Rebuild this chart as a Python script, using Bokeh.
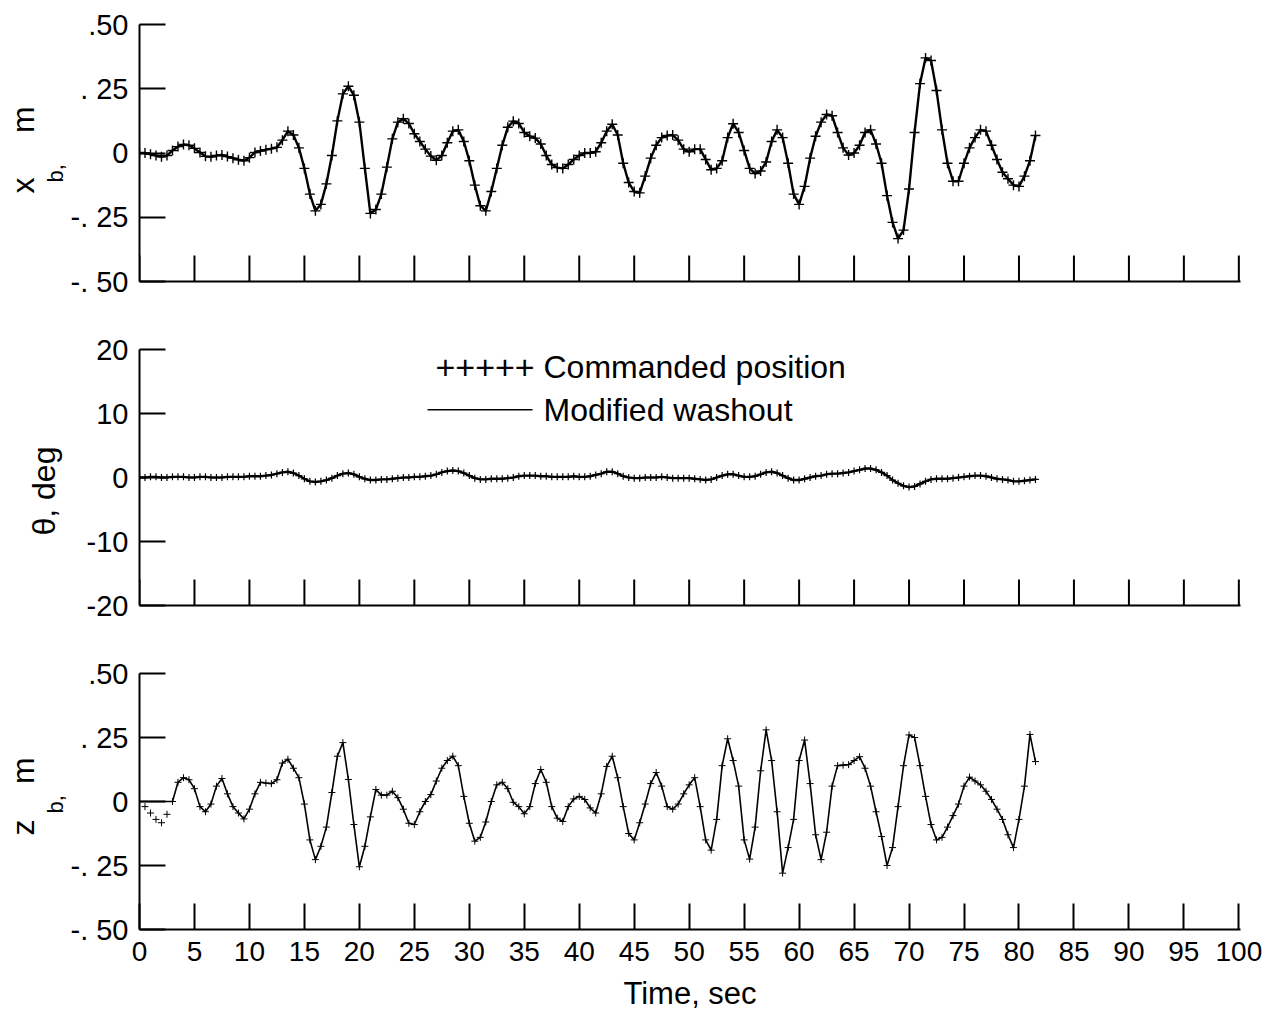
import numpy as np
from bokeh.plotting import figure
from bokeh.layouts import column
from bokeh.models import Range1d, FixedTicker, Label, Title
from bokeh.embed import file_html
from bokeh.resources import INLINE

FONT = "Liberation Sans"
NB = "\u00a0"

# ---------------- data ----------------
time_s = np.arange(0, 82, 0.5)   # 0 .. 81.5 s, one sample every 0.5 s

# x_b, m  (commanded position)
cmd_x = [
    0.00, 0.00, -0.005, -0.01, -0.015, -0.01, 0.01, 0.025, 0.033, 0.03,
    0.018, 0.002, -0.013, -0.015, -0.01, -0.008, -0.014, -0.02, -0.026, -0.03,
    -0.018, 0.002, 0.008, 0.013, 0.017, 0.022, 0.05, 0.085, 0.07, 0.02,
    -0.06, -0.16, -0.225, -0.2, -0.12, -0.01, 0.125, 0.23, 0.26, 0.225,
    0.12, -0.06, -0.235, -0.22, -0.16, -0.055, 0.055, 0.12, 0.133, 0.115,
    0.075, 0.045, 0.015, -0.012, -0.028, -0.01, 0.04, 0.085, 0.09, 0.045,
    -0.03, -0.125, -0.205, -0.225, -0.15, -0.06, 0.03, 0.1, 0.124, 0.115,
    0.08, 0.065, 0.058, 0.035, -0.01, -0.045, -0.057, -0.06, -0.045, -0.025,
    -0.01, 0.0, 0.0, 0.005, 0.04, 0.085, 0.112, 0.07, -0.04, -0.115,
    -0.15, -0.155, -0.09, -0.02, 0.03, 0.06, 0.068, 0.07, 0.05, 0.015,
    0.005, 0.015, 0.015, -0.025, -0.065, -0.06, -0.03, 0.06, 0.114, 0.08,
    0.01, -0.06, -0.08, -0.07, -0.035, 0.045, 0.09, 0.06, -0.04, -0.16,
    -0.2, -0.13, -0.02, 0.065, 0.12, 0.15, 0.145, 0.08, 0.02, -0.008,
    0.0, 0.03, 0.08, 0.09, 0.035, -0.04, -0.166, -0.27, -0.333, -0.3,
    -0.14, 0.08, 0.27, 0.37, 0.36, 0.243, 0.09, -0.04, -0.11, -0.11,
    -0.04, 0.02, 0.06, 0.09, 0.085, 0.03, -0.025, -0.075, -0.1, -0.125,
    -0.13, -0.09, -0.03, 0.068,
]
# x_b, m  (modified washout) - coincides with the commanded trace
wash_x = list(cmd_x)

# theta, deg (commanded position)
cmd_theta = [
    0, 0, 0.1, 0.1, 0, 0, 0.1, 0.1, 0.1, 0,
    0, 0.1, 0.1, 0, 0, 0, 0.1, 0.1, 0.1, 0.1,
    0.2, 0.2, 0.2, 0.3, 0.4, 0.6, 0.8, 0.9, 0.7, 0.3,
    -0.2, -0.6, -0.7, -0.6, -0.4, -0.1, 0.3, 0.6, 0.7, 0.5,
    0.1, -0.2, -0.4, -0.4, -0.3, -0.3, -0.2, -0.1, 0, 0,
    0.1, 0.1, 0.2, 0.3, 0.5, 0.8, 1.0, 1.1, 1.0, 0.7,
    0.3, -0.1, -0.3, -0.3, -0.2, -0.2, -0.2, -0.1, 0, 0.2,
    0.3, 0.3, 0.3, 0.2, 0.2, 0.1, 0.1, 0.1, 0.1, 0.2,
    0.1, 0.1, 0.2, 0.4, 0.6, 0.9, 0.9, 0.6, 0.2, 0,
    -0.1, -0.1, 0, 0, 0, 0.1, 0, -0.1, -0.1, -0.1,
    -0.1, -0.2, -0.3, -0.4, -0.3, 0, 0.3, 0.5, 0.5, 0.3,
    0.1, 0.1, 0.2, 0.5, 0.8, 0.9, 0.7, 0.3, -0.1, -0.4,
    -0.4, -0.2, 0, 0.2, 0.3, 0.5, 0.6, 0.6, 0.7, 0.8,
    1.0, 1.2, 1.4, 1.4, 1.2, 0.8, 0.3, -0.4, -0.9, -1.3,
    -1.5, -1.4, -1.0, -0.6, -0.3, -0.2, -0.2, -0.2, -0.1, 0,
    0.1, 0.2, 0.3, 0.3, 0.2, 0, -0.2, -0.3, -0.4, -0.6,
    -0.6, -0.5, -0.4, -0.3,
]
wash_theta = list(cmd_theta)

# z_b, m (commanded position)
cmd_z = [
    0.0, -0.02, -0.045, -0.07, -0.083, -0.05, 0.0, 0.075, 0.093, 0.085,
    0.05, -0.02, -0.04, -0.01, 0.06, 0.09, 0.03, -0.02, -0.045, -0.068,
    -0.03, 0.03, 0.075, 0.072, 0.07, 0.085, 0.15, 0.165, 0.13, 0.093,
    -0.01, -0.15, -0.227, -0.175, -0.1, 0.035, 0.177, 0.23, 0.086, -0.09,
    -0.255, -0.175, -0.06, 0.047, 0.025, 0.025, 0.04, 0.015, -0.03, -0.085,
    -0.09, -0.04, 0.0, 0.027, 0.08, 0.13, 0.16, 0.177, 0.14, 0.02,
    -0.085, -0.155, -0.14, -0.08, 0.0, 0.065, 0.075, 0.05, -0.003, -0.02,
    -0.048, -0.02, 0.07, 0.125, 0.075, -0.02, -0.065, -0.078, -0.02, 0.01,
    0.02, 0.008, -0.025, -0.045, 0.03, 0.137, 0.177, 0.093, -0.02, -0.125,
    -0.15, -0.083, -0.01, 0.07, 0.113, 0.06, -0.02, -0.03, -0.01, 0.03,
    0.065, 0.093, -0.02, -0.15, -0.19, -0.07, 0.14, 0.245, 0.16, 0.06,
    -0.15, -0.225, -0.1, 0.12, 0.28, 0.16, -0.04, -0.28, -0.18, -0.07,
    0.16, 0.24, 0.07, -0.13, -0.227, -0.12, 0.06, 0.14, 0.142, 0.144,
    0.16, 0.175, 0.13, 0.06, -0.04, -0.137, -0.25, -0.18, -0.02, 0.14,
    0.26, 0.25, 0.14, 0.02, -0.09, -0.15, -0.14, -0.1, -0.055, -0.01,
    0.06, 0.095, 0.08, 0.065, 0.04, 0.008, -0.03, -0.07, -0.13, -0.18,
    -0.07, 0.06, 0.262, 0.156,
]
# z_b, m (modified washout): flat at the start, then follows the command
wash_z = [0.0, 0.0, 0.0, 0.0, 0.0, 0.0] + cmd_z[6:]

x_ticks = list(range(0, 101, 5))
pos_ticks = [-0.5, -0.25, 0.0, 0.25, 0.5]
pos_labels = {0.5: ".50", 0.25: ". 25", 0.0: "0", -0.25: "-. 25", -0.5: "-. 50"}
deg_ticks = [-20, -10, 0, 10, 20]
deg_labels = {20: "20", 10: "10", 0: "0", -10: "-10", -20: "-20"}

legend_marks = "+++++"
legend_cmd = "Commanded position"
legend_wash = "Modified washout"

X_END = 100.15
TICK_PX = 26


def make_panel(yr, yticks, ylabels, frame_h, top, bottom, show_x):
    p = figure(frame_width=1101, frame_height=frame_h,
               x_range=Range1d(0, X_END), y_range=Range1d(*yr),
               output_backend="svg", toolbar_location=None,
               min_border_left=139, min_border_right=24,
               min_border_top=top, min_border_bottom=bottom)
    p.outline_line_color = None
    p.grid.visible = False
    for ax in (p.xaxis[0], p.yaxis[0]):
        ax.axis_line_width = 2
        ax.axis_line_color = "black"
        ax.major_tick_line_width = 2
        ax.major_tick_line_color = "black"
        ax.major_tick_in = TICK_PX
        ax.major_tick_out = 0
        ax.minor_tick_line_color = None
        ax.major_label_text_font = FONT
        ax.major_label_text_color = "black"
    p.yaxis.ticker = FixedTicker(ticks=yticks)
    p.yaxis.major_label_overrides = ylabels
    p.yaxis.major_label_text_font_size = "29px"
    p.yaxis.major_label_standoff = 11
    if show_x:
        p.xaxis.ticker = FixedTicker(ticks=x_ticks)
        p.xaxis.major_label_text_font_size = "28px"
        p.xaxis.major_label_standoff = 12
    else:
        # axis line only; the inward ticks are drawn from the same tick list
        p.xaxis.ticker = FixedTicker(ticks=[])
        lo = yr[0]
        tl = TICK_PX * (yr[1] - yr[0]) / frame_h
        p.segment(x0=x_ticks, y0=[lo] * len(x_ticks), x1=x_ticks,
                  y1=[lo + tl] * len(x_ticks), line_color="black", line_width=2)
    return p


def side_title(p, text, size, offset, standoff=0):
    p.add_layout(Title(text=text, align="left", offset=offset, standoff=standoff,
                       text_font=FONT, text_font_size=size,
                       text_font_style="normal", text_color="black"), "left")


# ---------------- panel 1: x_b ----------------
p1 = make_panel((-0.5, 0.5), pos_ticks, pos_labels, 257, 24, 20, False)
p1.line(time_s, wash_x, line_color="black", line_width=2.4)
p1.scatter(time_s, cmd_x, marker="cross", size=10, line_color="black",
           line_width=1.4)
side_title(p1, "b,", "22px", 99)
side_title(p1, "x" + NB * 5 + "m", "32px", 88)

# ---------------- panel 2: theta ----------------
p2 = make_panel((-20, 20), deg_ticks, deg_labels, 256, 48, 20, False)
p2.line(time_s, wash_theta, line_color="black", line_width=2.4)
p2.scatter(time_s, cmd_theta, marker="cross", size=7, line_color="black",
           line_width=1.2)
side_title(p2, "θ, deg", "32px", 70, standoff=43)
p2.add_layout(Label(x=26.92, y=17.2, text=legend_marks, text_font=FONT,
                    text_font_size="34px", text_color="black",
                    text_align="left", text_baseline="middle"))
p2.add_layout(Label(x=36.75, y=17.2, text=legend_cmd, text_font=FONT,
                    text_font_size="32px", text_color="black",
                    text_align="left", text_baseline="middle"))
p2.line([26.2, 35.75], [10.6, 10.6], line_color="black", line_width=1.5)
p2.add_layout(Label(x=36.75, y=10.6, text=legend_wash, text_font=FONT,
                    text_font_size="32px", text_color="black",
                    text_align="left", text_baseline="middle"))

# ---------------- panel 3: z_b ----------------
p3 = make_panel((-0.5, 0.5), pos_ticks, pos_labels, 256, 48, 93, True)
p3.line(time_s, wash_z, line_color="black", line_width=1.6)
p3.scatter(time_s, cmd_z, marker="cross", size=7, line_color="black",
           line_width=1.0)
side_title(p3, "b,", "22px", 116)
side_title(p3, "z" + NB * 4 + "m", "32px", 94)
p3.xaxis.axis_label = "Time, sec"
p3.xaxis.axis_label_text_font = FONT
p3.xaxis.axis_label_text_font_size = "31px"
p3.xaxis.axis_label_text_font_style = "normal"
p3.xaxis.axis_label_text_color = "black"
p3.xaxis.axis_label_standoff = 12

layout = column(p1, p2, p3, spacing=0)
open("out.html", "w").write(file_html(layout, INLINE))
